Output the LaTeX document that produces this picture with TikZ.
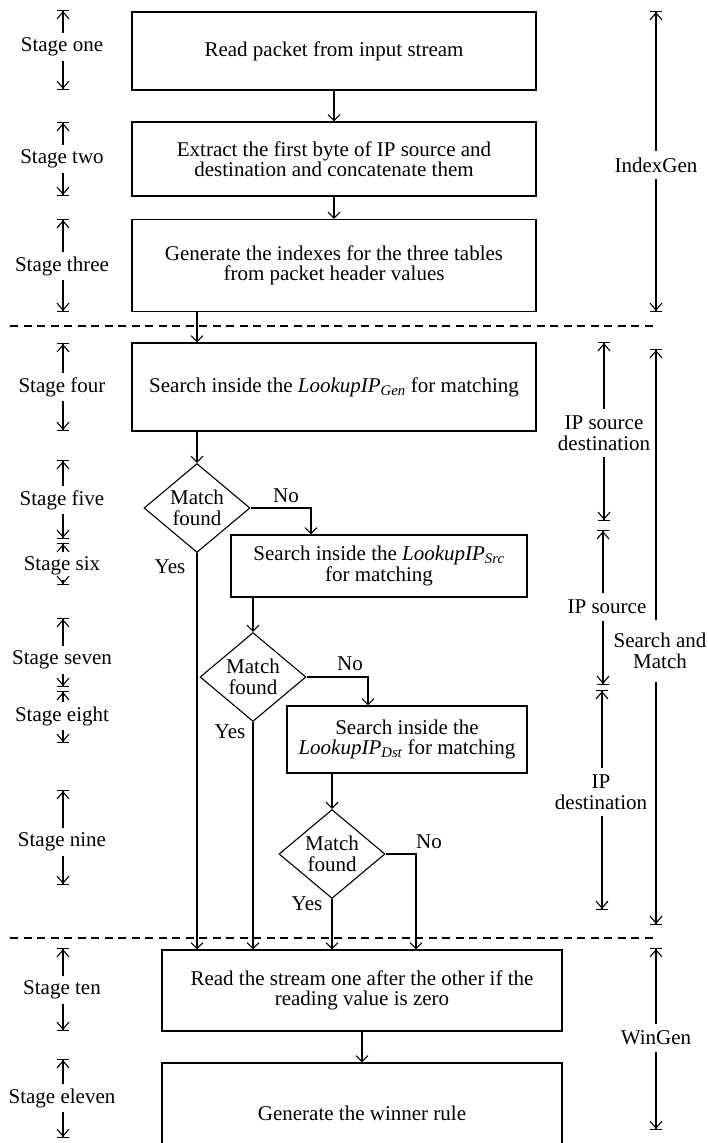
\documentclass[tikz,border=0pt]{standalone}
\usepackage{fontspec}
\setmainfont{Liberation Serif}
\usetikzlibrary{arrows.meta,shapes.geometric}
\begin{document}
\begin{tikzpicture}[x=1pt,y=-1pt,
  every node/.style={font=\fontsize{21}{20.5}\selectfont},
  line width=1.1pt,
  flow/.style={-{Straight Barb[length=6pt,width=12pt]}},
  dim/.style={-{Straight Barb[length=7pt,width=12pt]Bar[width=12pt]}},
  box/.style={draw, align=center, inner sep=0pt},
  dec/.style={draw, shape=diamond, align=center, inner sep=0pt,
              minimum width=106pt, minimum height=88pt},
  stage/.style={inner sep=4pt},
  side/.style={align=center, inner sep=6pt},
  lbl/.style={inner sep=0pt},
  sep/.style={dashed, dash pattern=on 8pt off 5.5pt}]
\useasboundingbox (0,0) rectangle (708,1143);

% process boxes
\node[box, minimum width=404pt, minimum height=78pt] (b1) at (334,51)
  {Read packet from input stream};
\node[box, minimum width=404pt, minimum height=74pt] (b2) at (334,159)
  {Extract the first byte of IP source and\\destination and concatenate them};
\node[box, minimum width=404pt, minimum height=92pt] (b3) at (334,265.5)
  {Generate the indexes for the three tables\\from packet header values};
\node[box, minimum width=404pt, minimum height=88pt] (b4) at (334,387)
  {Search inside the \textit{LookupIP\textsubscript{Gen}} for matching};
\node[box, minimum width=296pt, minimum height=62pt] (b5) at (379,566)
  {Search inside the \textit{LookupIP\textsubscript{Src}}\\for matching};
\node[box, minimum width=240pt, minimum height=67pt] (b6) at (407,739.5)
  {Search inside the\\\textit{LookupIP\textsubscript{Dst}} for matching};
\node[box, minimum width=400pt, minimum height=81pt] (b10) at (362,990.5)
  {Read the stream one after the other if the\\reading value is zero};
\node[box, minimum width=400pt, minimum height=100pt] (b11) at (362,1113)
  {Generate the winner rule};

% decisions
\node[dec] (d1) at (197,508) {Match\\found};
\node[dec] (d2) at (253,677) {Match\\found};
\node[dec] (d3) at (332,854) {Match\\found};

% bend points of the "No" branches
\coordinate (n1) at (311,0);
\coordinate (n2) at (368,0);
\coordinate (n3) at (416,0);

% phase separators
\coordinate (l1a) at (10,326);  \coordinate (l1b) at (657,326);
\coordinate (l2a) at (10,938);  \coordinate (l2b) at (657,938);
\draw[sep] (l1a) -- (l1b);
\draw[sep] (l2a) -- (l2b);

% flow connectors
\draw[flow] (b1) -- (b2);
\draw[flow] (b2) -- (b3);
\draw[flow] (b3.south -| d1.north) -- (b4.north -| d1.north);
\draw[flow] (b4.south -| d1.north) -- (d1.north);
\draw[flow] (d1.east) -| (b5.north -| n1);
\draw[flow] (d1.south) -- (d1.south |- b10.north);
\draw[flow] (b5.south -| d2.north) -- (d2.north);
\draw[flow] (d2.east) -| (b6.north -| n2);
\draw[flow] (d2.south) -- (d2.south |- b10.north);
\draw[flow] (b6.south -| d3.north) -- (d3.north);
\draw[flow] (d3.east) -| (b10.north -| n3);
\draw[flow] (d3.south) -- (d3.south |- b10.north);
\draw[flow] (b10) -- (b11);

% branch labels
\node[lbl] (y1) at (170,567) {Yes};
\node[lbl] (y2) at (230,732) {Yes};
\node[lbl] (y3) at (307,904) {Yes};
\node[lbl] (no1) at (286,496) {No};
\node[lbl] (no2) at (350,664) {No};
\node[lbl] (no3) at (429,842) {No};

% stage markers on the left
\foreach \n/\txt/\tp/\md/\bt in {
  1/one/10/47/90, 2/two/122/159/196, 3/three/219/266/312,
  4/four/343/387/431, 5/five/460/500/539, 6/six/543/566/585,
  7/seven/618/660/687, 8/eight/691/716/743, 9/nine/790/842/885,
  10/ten/948/990/1031, 11/eleven/1059/1098/1138} {
  \node[stage] (s\n) at (62,\md) {Stage \txt};
  \coordinate (s\n t) at (63,\tp);
  \coordinate (s\n b) at (63,\bt);
  \draw[dim] (s\n.north -| s\n t) -- (s\n t);
  \draw[dim] (s\n.south -| s\n b) -- (s\n b);
}

% module spans on the right
\node[side] (ig) at (656,165) {IndexGen};
\coordinate (igt) at (656,11);  \coordinate (igb) at (656,312);
\draw[dim] (ig.north -| igt) -- (igt);
\draw[dim] (ig.south -| igb) -- (igb);

\node[side] (sd) at (604,433) {IP source\\destination};
\coordinate (sdt) at (604,342); \coordinate (sdb) at (604,521);
\draw[dim] (sd.north -| sdt) -- (sdt);
\draw[dim] (sd.south -| sdb) -- (sdb);

\node[side] (src) at (607,607) {IP source};
\coordinate (srct) at (603,530); \coordinate (srcb) at (603,685);
\draw[dim] (src.north -| srct) -- (srct);
\draw[dim] (src.south -| srcb) -- (srcb);

\node[side] (dst) at (601,792) {IP\\destination};
\coordinate (dstt) at (602,690); \coordinate (dstb) at (602,910);
\draw[dim] (dst.north -| dstt) -- (dstt);
\draw[dim] (dst.south -| dstb) -- (dstb);

\node[side, inner ysep=13pt] (sm) at (660,651) {Search and\\Match};
\coordinate (smt) at (656,349); \coordinate (smb) at (656,925);
\draw[dim] (sm.north -| smt) -- (smt);
\draw[dim] (sm.south -| smb) -- (smb);

\node[side] (wg) at (656,1038) {WinGen};
\coordinate (wgt) at (656,948); \coordinate (wgb) at (656,1130);
\draw[dim] (wg.north -| wgt) -- (wgt);
\draw[dim] (wg.south -| wgb) -- (wgb);
\end{tikzpicture}
\end{document}
